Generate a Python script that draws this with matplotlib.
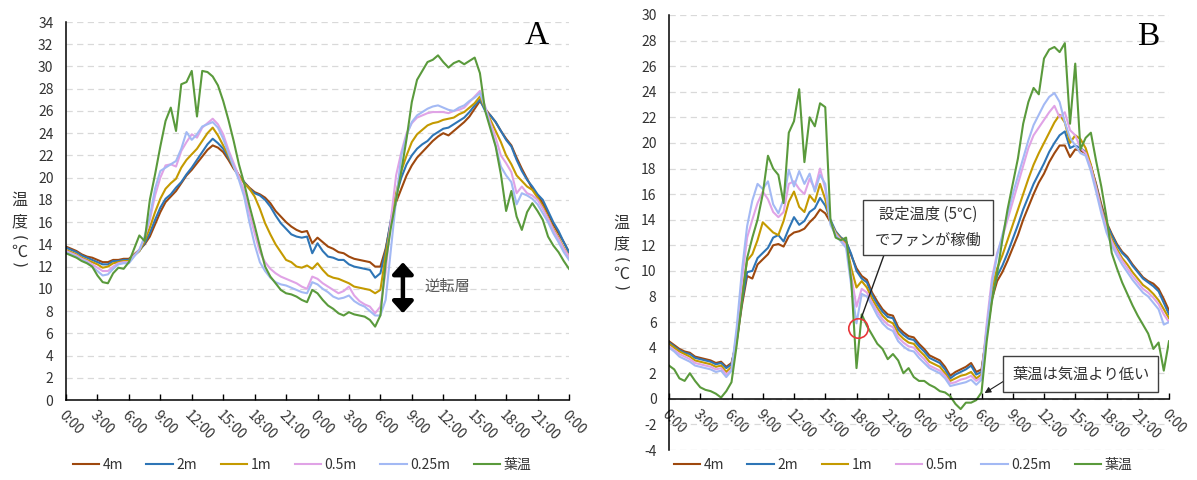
import numpy as np
import matplotlib
matplotlib.use('Agg')
import matplotlib.pyplot as plt
from matplotlib.transforms import Affine2D
from matplotlib.patches import Rectangle

plt.rcParams['font.family'] = ['Noto Sans CJK JP', 'DejaVu Sans']
plt.rcParams['axes.unicode_minus'] = False

# ---------------- data ----------------
hours = np.arange(0, 48.5, 0.5)   # 30-min sampling over two days
tick_hours = list(range(0, 49, 3))
tick_labels = ['0:00', '3:00', '6:00', '9:00', '12:00', '15:00', '18:00', '21:00',
               '0:00', '3:00', '6:00', '9:00', '12:00', '15:00', '18:00', '21:00', '0:00']
series_names = ['4m', '2m', '1m', '0.5m', '0.25m', '葉温']

A_4m = [13.8,13.6,13.4,13.1,12.9,12.8,12.6,12.4,12.4,12.6,12.6,12.7,
        12.7,13.1,13.5,14.0,14.7,15.8,16.9,17.8,18.3,18.8,19.5,20.2,
        20.7,21.3,21.9,22.5,22.9,22.7,22.3,21.6,20.8,20.2,19.6,19.1,
        18.7,18.5,18.2,17.7,17.0,16.5,16.0,15.6,15.3,15.1,15.2,14.1,
        14.6,14.2,13.8,13.6,13.3,13.2,12.9,12.7,12.6,12.5,12.4,12.0,
        12.0,13.6,16.0,17.8,19.0,20.2,21.1,21.8,22.3,22.8,23.3,23.7,
        24.0,23.8,24.2,24.6,25.0,25.5,26.2,26.9,26.2,25.6,25.0,24.2,
        23.5,22.9,21.8,20.8,19.9,19.0,18.4,17.7,16.8,15.8,15.0,14.2,
        13.3]
A_2m = [13.7,13.5,13.3,13.0,12.8,12.6,12.4,12.2,12.2,12.5,12.5,12.6,
        12.6,13.0,13.4,14.1,15.0,16.2,17.3,18.1,18.5,19.1,19.6,20.3,
        20.9,21.6,22.3,23.0,23.5,23.1,22.6,21.8,21.0,20.2,19.6,19.0,
        18.6,18.4,18.0,17.4,16.6,15.9,15.4,14.9,14.7,14.6,14.7,13.2,
        14.1,13.4,12.9,12.8,12.6,12.6,12.2,12.0,11.9,11.8,11.7,11.0,
        11.4,13.4,16.2,18.4,20.0,21.2,22.0,22.6,23.0,23.3,23.8,24.1,
        24.4,24.5,24.8,25.1,25.4,25.9,26.5,27.0,26.0,25.6,25.0,24.2,
        23.4,22.8,21.6,20.6,19.8,19.2,18.5,18.0,17.0,16.0,15.2,14.2,
        13.3]
A_1m = [13.5,13.3,13.1,12.8,12.6,12.4,12.2,11.9,12.0,12.3,12.4,12.5,
        12.5,13.0,13.4,14.3,15.5,16.9,18.1,19.0,19.5,19.9,20.9,21.6,
        22.1,22.6,23.3,24.0,24.5,23.8,22.9,22.0,21.0,20.2,19.5,19.0,
        18.3,17.2,15.9,14.9,14.0,13.3,12.6,12.4,12.0,11.9,12.1,11.8,
        12.3,11.7,11.2,11.0,10.9,10.7,10.5,10.2,10.1,10.0,9.9,9.6,
        9.9,13.0,15.8,18.6,20.6,22.0,23.2,23.9,24.3,24.7,24.9,25.0,
        25.2,25.3,25.4,25.7,25.9,26.3,26.7,27.3,26.2,25.2,24.2,23.2,
        22.0,21.2,20.2,19.7,19.2,18.9,18.2,17.4,16.4,15.4,14.6,13.7,
        12.9]
A_05m = [13.4,13.2,13.0,12.7,12.5,12.2,11.9,11.6,11.6,12.0,12.3,12.4,
         12.4,13.0,13.5,14.6,16.2,18.4,20.0,21.1,21.2,21.0,22.4,23.2,
         23.9,23.6,24.5,24.9,25.3,24.8,23.9,22.5,21.3,20.1,18.8,16.8,
         15.0,13.3,12.4,11.8,11.4,11.1,10.9,10.7,10.5,10.2,10.0,11.1,
         10.9,10.5,10.2,9.9,9.6,9.8,10.2,9.4,8.9,8.6,8.4,7.8,
         8.4,11.5,16.2,20.2,22.3,24.0,24.9,25.4,25.6,25.8,25.9,25.9,
         25.9,25.8,26.0,26.1,26.3,26.8,27.3,27.8,26.4,24.9,23.6,22.0,
         21.3,20.5,18.6,19.2,18.6,18.4,18.0,17.2,16.3,15.3,14.5,13.6,
         12.9]
A_025m = [13.3,13.1,12.9,12.6,12.4,12.0,11.6,11.2,11.3,11.8,12.2,12.3,
          12.3,12.9,13.5,14.7,16.5,19.0,20.6,20.9,21.2,21.5,22.6,24.1,
          23.4,23.9,24.6,24.8,25.0,24.5,23.5,22.2,21.0,19.8,18.3,16.0,
          14.0,12.4,11.6,11.0,10.6,10.4,10.3,10.1,9.9,9.7,9.6,10.6,
          10.4,10.0,9.7,9.3,9.1,9.2,9.4,8.9,8.6,8.4,8.0,7.6,
          7.6,9.0,13.5,18.0,22.0,23.8,25.0,25.6,25.9,26.2,26.4,26.5,
          26.3,26.1,26.0,26.3,26.5,26.9,27.2,27.6,26.3,24.6,22.9,21.0,
          20.2,19.6,17.6,18.6,18.4,18.1,17.6,16.8,16.0,15.0,14.2,13.3,
          12.6]
A_leaf = [13.2,13.0,12.8,12.5,12.3,12.0,11.2,10.6,10.5,11.4,11.9,11.8,
          12.4,13.6,14.8,14.3,18.0,20.3,22.8,25.1,26.3,24.2,28.4,28.6,
          29.6,25.5,29.6,29.5,29.1,28.3,26.9,25.2,23.3,21.2,19.5,17.5,
          15.7,13.8,12.0,11.1,10.5,9.9,9.6,9.5,9.3,9.0,8.8,9.9,
          9.6,9.0,8.5,8.2,7.8,7.6,7.9,7.7,7.6,7.5,7.2,6.6,
          7.6,12.3,15.5,18.0,20.6,23.5,26.8,28.8,29.6,30.4,30.6,31.0,
          30.4,29.9,30.3,30.5,30.2,30.5,30.8,29.4,26.0,24.4,22.8,20.3,
          17.0,18.8,16.5,15.3,16.9,17.7,17.0,16.2,14.7,13.9,13.3,12.5,
          11.8]

B_4m = [4.5,4.2,3.9,3.7,3.6,3.3,3.2,3.1,3.0,2.8,2.9,2.5,
        2.8,4.5,7.3,9.6,9.4,10.5,10.9,11.3,12.0,12.1,11.9,12.7,
        13.0,13.1,13.3,13.8,14.2,14.8,14.5,13.8,13.0,12.6,12.3,11.2,
        10.2,9.6,9.3,8.3,7.6,7.0,6.6,6.5,5.6,5.2,4.9,4.8,
        4.3,3.9,3.4,3.2,3.0,2.5,1.8,2.1,2.3,2.5,2.8,2.1,
        2.3,5.0,7.8,9.2,9.9,10.8,11.8,12.8,14.0,15.0,16.0,16.9,
        17.6,18.5,19.2,19.8,19.8,18.9,19.5,19.4,19.2,18.2,16.8,15.2,
        13.8,12.9,12.1,11.5,11.1,10.5,10.0,9.5,9.2,9.0,8.6,7.8,
        6.9]
B_2m = [4.4,4.1,3.8,3.6,3.5,3.2,3.1,3.0,2.9,2.7,2.8,2.4,
        2.7,4.6,7.6,9.9,10.0,11.0,11.4,11.8,12.6,12.8,12.3,13.3,
        14.2,13.6,13.9,14.6,14.9,15.7,15.1,14.0,13.1,12.6,12.3,11.3,
        10.0,9.4,9.1,8.1,7.4,6.8,6.4,6.3,5.4,5.0,4.7,4.6,
        4.1,3.7,3.2,3.0,2.8,2.3,1.6,1.9,2.1,2.3,2.6,1.9,
        2.1,5.2,8.1,9.6,10.4,11.4,12.5,13.6,14.8,15.8,16.8,17.6,
        18.4,19.3,20.0,20.6,20.9,19.6,19.8,19.6,19.3,18.2,16.7,15.0,
        13.7,12.8,12.0,11.4,11.0,10.4,9.9,9.4,9.1,8.8,8.4,7.5,
        6.6]
B_1m = [4.3,4.0,3.7,3.5,3.3,3.0,2.9,2.8,2.7,2.5,2.6,2.1,
        2.5,4.8,8.2,10.8,11.3,12.4,13.8,13.4,13.0,12.8,13.9,15.4,
        16.2,15.0,14.6,15.9,15.4,16.8,15.6,13.8,13.0,12.5,12.1,10.2,
        8.7,9.2,8.7,7.8,7.1,6.5,6.1,5.9,5.1,4.7,4.4,4.3,
        3.8,3.4,2.9,2.7,2.5,2.0,1.4,1.6,1.8,1.9,2.1,1.6,
        1.9,5.5,8.6,10.2,11.2,12.4,13.6,14.8,16.0,17.2,18.3,19.2,
        20.0,20.8,21.6,22.2,21.6,20.0,20.6,20.3,19.6,18.3,16.6,14.9,
        13.5,12.5,11.7,11.0,10.5,9.9,9.4,8.9,8.6,8.2,7.7,7.0,
        6.3]
B_05m = [4.1,3.8,3.5,3.3,3.1,2.8,2.7,2.6,2.5,2.3,2.4,1.9,
         2.3,5.2,9.2,12.6,14.0,15.3,16.2,15.6,14.6,14.2,14.6,16.8,
         17.0,16.4,16.0,17.2,16.4,18.0,16.4,13.8,12.9,12.4,12.0,9.6,
         7.2,8.6,8.3,7.5,6.8,6.2,5.8,5.6,4.8,4.4,4.1,4.0,
         3.5,3.1,2.6,2.4,2.2,1.8,1.2,1.3,1.5,1.6,1.8,1.4,
         1.7,5.9,9.4,11.4,12.6,14.0,15.4,16.8,18.2,19.6,20.6,21.2,
         21.8,22.4,22.9,22.0,22.4,21.0,20.6,19.6,19.2,18.1,16.5,14.8,
         13.3,12.3,11.5,10.8,10.2,9.6,9.1,8.6,8.3,7.9,7.4,6.6,
         6.0]
B_025m = [4.0,3.7,3.3,3.1,2.9,2.6,2.5,2.4,2.3,2.1,2.2,1.7,
          2.2,5.6,10.0,13.5,15.5,16.8,16.4,17.0,15.2,14.5,15.6,17.9,
          16.6,17.8,16.8,17.6,16.2,17.5,16.8,13.6,12.8,12.3,11.8,8.8,
          5.9,8.2,8.0,7.3,6.5,5.9,5.5,5.3,4.5,4.1,3.8,3.7,
          3.2,2.8,2.4,2.2,2.0,1.6,1.0,1.1,1.2,1.3,1.5,1.1,
          1.5,5.4,9.0,11.2,12.8,14.4,16.0,17.4,18.8,20.2,21.4,22.2,
          23.0,23.6,23.9,23.2,21.6,20.4,19.8,19.2,19.0,17.8,16.2,14.5,
          13.0,12.0,11.2,10.5,9.9,9.3,8.8,8.3,8.0,7.5,7.0,5.8,
          6.0]
B_leaf = [2.6,2.3,1.6,1.4,2.0,1.4,0.9,0.7,0.6,0.4,0.1,0.6,
          1.3,4.2,7.6,11.0,12.6,14.0,16.0,19.0,18.0,17.5,15.3,20.8,
          21.7,24.2,18.5,22.0,21.3,23.1,22.8,14.0,12.6,12.4,12.6,9.2,
          2.4,6.6,5.7,5.0,4.3,3.9,3.1,3.5,3.0,2.0,2.4,1.7,
          1.4,1.4,1.1,0.9,0.6,0.5,0.2,-0.4,-0.8,-0.3,-0.3,-0.1,
          0.5,4.5,7.6,9.8,12.4,14.8,16.8,18.8,21.5,23.2,24.3,23.8,
          26.6,27.3,27.5,27.1,27.8,21.5,26.2,19.5,20.4,20.8,18.6,16.6,
          14.2,11.4,10.2,9.1,8.2,7.3,6.5,5.8,5.1,3.9,4.4,2.2,
          4.5]

colors = ['#9E480E', '#2E75B6', '#C49A00', '#E0A3E6', '#A3B9F4', '#5A9A3C']

# ---------------- figure ----------------
W, H = 1197, 480
fig = plt.figure(figsize=(W / 100, H / 100), dpi=100)
pix = Affine2D().scale(1 / W, -1 / H).translate(0, 1) + fig.transFigure

axA = fig.add_axes([66 / W, 1 - 400 / H, 503 / W, 378 / H])
axB = fig.add_axes([669 / W, 1 - 450 / H, 500 / W, 435 / H])
axB.spines['bottom'].set_position(('data', 0))

TXT = '#333333'
GRID = '#D9D9D9'


def style(ax, ymin, ymax):
    ax.set_xlim(0, 48)
    ax.set_ylim(ymin, ymax)
    ax.set_yticks(range(ymin, ymax + 1, 2))
    ax.set_xticks(tick_hours)
    ax.set_xticklabels(tick_labels, rotation=-45, ha='left', va='top',
                       rotation_mode='anchor')
    for s in ['top', 'right']:
        ax.spines[s].set_visible(False)
    for s in ['left', 'bottom']:
        ax.spines[s].set_color('black')
        ax.spines[s].set_linewidth(1.1)
    ax.tick_params(axis='y', length=0, pad=9, labelsize=10, colors=TXT)
    ax.tick_params(axis='x', direction='in', length=4, width=1.0, pad=6,
                   labelsize=10, labelcolor=TXT, color='black')
    ax.yaxis.grid(True, color=GRID, linestyle=(0, (5, 3.5)), linewidth=0.9)
    ax.set_axisbelow(True)


style(axA, 0, 34)
style(axB, -4, 30)

seriesA = [A_4m, A_2m, A_1m, A_05m, A_025m, A_leaf]
seriesB = [B_4m, B_2m, B_1m, B_05m, B_025m, B_leaf]
linesA = []
for name, vals, c in zip(series_names, seriesA, colors):
    ln, = axA.plot(hours, vals, color=c, lw=1.5, label=name)
    linesA.append(ln)
linesB = []
for name, vals, c in zip(series_names, seriesB, colors):
    ln, = axB.plot(hours, vals, color=c, lw=1.5, label=name)
    linesB.append(ln)

# legends
for lines, cx in [(linesA, 302), (linesB, 903)]:
    fig.legend(lines, series_names, loc='center', bbox_to_anchor=(cx / W, 1 - 465 / H),
               ncol=6, frameon=False, fontsize=10, handlelength=1.9,
               handletextpad=0.25, columnspacing=1.7, labelcolor=TXT)

# y labels (vertical)
for x, ys in [(19, (200, 222, 238, 252, 265)), (621, (223, 244, 260, 274, 288))]:
    fig.text(x / W, 1 - ys[0] / H, '温', fontsize=11.5, color=TXT, ha='center', va='center')
    fig.text(x / W, 1 - ys[1] / H, '度', fontsize=11.5, color=TXT, ha='center', va='center')
    fig.text(x / W, 1 - ys[2] / H, '(', fontsize=11, color=TXT, ha='center', va='center',
             rotation=-90, family='DejaVu Sans')
    fig.text(x / W, 1 - ys[3] / H, '℃', fontsize=11.5, color=TXT, ha='center', va='center')
    fig.text(x / W, 1 - ys[4] / H, ')', fontsize=11, color=TXT, ha='center', va='center',
             rotation=-90, family='DejaVu Sans')

# panel letters
fig.text(537 / W, 1 - 36 / H, 'A', fontsize=24, family='Liberation Serif',
         ha='center', va='center', color='black')
fig.text(1148 / W, 1 - 37 / H, 'B', fontsize=24, family='Liberation Serif',
         ha='center', va='center', color='black')

# panel A annotation: inversion layer
axA.annotate('', xy=(32.15, 12.4), xytext=(32.15, 7.8),
             arrowprops=dict(arrowstyle='<|-|>,head_length=0.5,head_width=0.45',
                             color='black', lw=3.2, mutation_scale=14,
                             shrinkA=0, shrinkB=0))
fig.text(447 / W, 1 - 286 / H, '逆転層', fontsize=11, color='#595959',
         ha='center', va='center')

# panel B annotations
axB.plot([18.1], [5.5], 'o', ms=14, mfc='none', mec='#E8363A', mew=1.2, zorder=5)
axB.annotate('', xy=(18.45, 6.3), xycoords='data', xytext=(884, 255), textcoords=pix,
             arrowprops=dict(arrowstyle='-', color='#202020', lw=1.0,
                             shrinkA=0, shrinkB=0), annotation_clip=False)
fig.add_artist(Rectangle((863, 255), 130, -55, transform=pix, fc='white',
                         ec='#404040', lw=1.0, zorder=2))
fig.text(928 / W, 1 - 214 / H, '設定温度 (5℃)', fontsize=11, color=TXT,
         ha='center', va='center', zorder=3)
fig.text(928 / W, 1 - 240 / H, 'でファンが稼働', fontsize=11, color=TXT,
         ha='center', va='center', zorder=3)

axB.annotate('', xy=(30.3, 0.45), xycoords='data', xytext=(1004, 381), textcoords=pix,
             arrowprops=dict(arrowstyle='-|>', color='#202020', lw=0.8,
                             mutation_scale=9, shrinkA=0, shrinkB=0),
             annotation_clip=False)
fig.add_artist(Rectangle((1003, 392), 155, -36, transform=pix, fc='white',
                         ec='#404040', lw=1.0, zorder=2))
fig.text(1081 / W, 1 - 374 / H, '葉温は気温より低い', fontsize=11, color=TXT,
         ha='center', va='center', zorder=3)

fig.savefig('out.png', dpi=100)
